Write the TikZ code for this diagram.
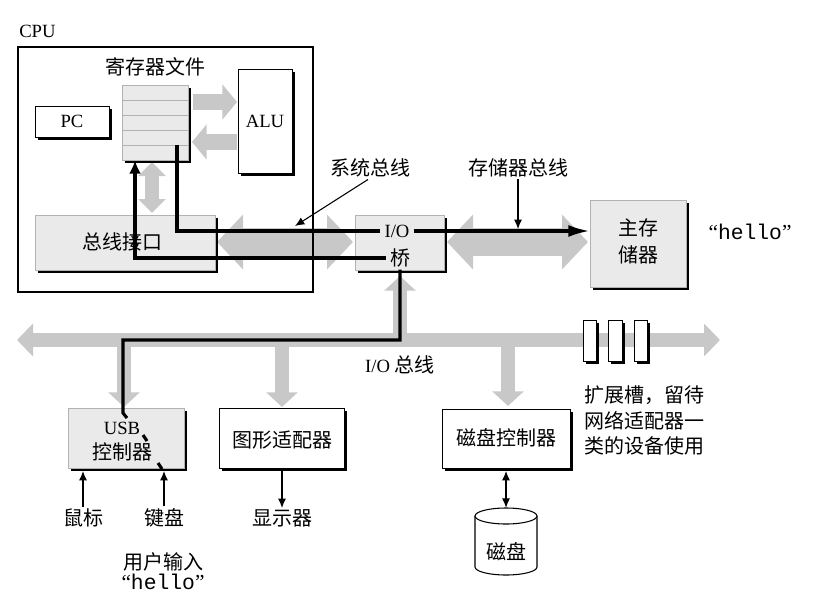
\documentclass[tikz,border=0pt]{standalone}
\usepackage{fontspec}
\setmainfont{Liberation Serif}
\setmonofont{Liberation Mono}
\newfontfamily\cjk{Noto Sans CJK SC}
\usetikzlibrary{arrows.meta,shadows,fit}
\definecolor{busgray}{RGB}{200,200,200}
\definecolor{boxgray}{RGB}{234,234,234}
\definecolor{edgegray}{RGB}{178,178,178}
\begin{document}
\begin{tikzpicture}[x=0.75pt,y=-0.75pt,
  plainbox/.style={draw=black, line width=0.6pt, fill=white, inner sep=0pt,
    drop shadow={shadow xshift=2.6pt, shadow yshift=-2.6pt, fill=black, opacity=1}},
  shadedbox/.style={plainbox, draw=edgegray, fill=boxgray},
  lat/.style={inner sep=0pt, font=\fontsize{14}{16}\selectfont},
  zh/.style={inner sep=0pt, font=\fontsize{15}{18}\selectfont\cjk},
  hl/.style={inner sep=0pt, font=\fontsize{16}{18}\selectfont},
  sysbus/.style={draw=busgray, line width=21.5pt,
    arrows={Triangle[length=19.5pt,width=40pt]-Triangle[length=19.5pt,width=40pt]}},
  regalu/.style={draw=busgray, line width=12pt, arrows={-Triangle[length=11pt,width=26pt]}},
  regbus/.style={draw=busgray, line width=11pt,
    arrows={Triangle[length=10.5pt,width=20pt]-Triangle[length=10.5pt,width=20pt]}},
  iobus/.style={draw=busgray, line width=11pt,
    arrows={Triangle[length=12pt,width=24pt]-Triangle[length=12pt,width=24pt]}},
  dropbus/.style={draw=busgray, line width=10pt, arrows={-Triangle[length=11pt,width=23pt]}},
  heavy/.style={line width=2.3pt, black},
  pointer/.style={line width=0.8pt, black, -{Latex[length=7pt,width=6pt]}},
  dpointer/.style={line width=0.8pt, black, {Latex[length=7pt,width=6pt]}-{Latex[length=7pt,width=6pt]}}
]
\useasboundingbox (0,0) rectangle (816,610);

% ---------- coordinates for free ends ----------
\coordinate (ra1) at (193,102);  \coordinate (ra2) at (237,102);
\coordinate (ar1) at (237,142);  \coordinate (ar2) at (192,142);
\coordinate (rb1) at (152,162);  \coordinate (rb2) at (152,213);
\coordinate (busL) at (17,340);  \coordinate (busR) at (720,340);
\coordinate (dUsb1) at (124,340); \coordinate (dUsb2) at (124,407);
\coordinate (dGfx1) at (282,340); \coordinate (dGfx2) at (282,407);
\coordinate (dDsk1) at (508,340); \coordinate (dDsk2) at (508,406);
\coordinate (up1) at (400,340);  \coordinate (up2) at (400,276);

% ---------- gray buses (behind boxes) ----------
\draw[regalu] (ra1) -- (ra2);
\draw[regalu] (ar1) -- (ar2);
\draw[regbus] (rb1) -- (rb2);
\draw[iobus] (busL) -- (busR);
\draw[dropbus] (dUsb1) -- (dUsb2);
\draw[dropbus] (dGfx1) -- (dGfx2);
\draw[dropbus] (dDsk1) -- (dDsk2);
\draw[dropbus] (up1) -- (up2);
\coordinate (sb1) at (217,242); \coordinate (sb2) at (353,242);
\coordinate (mb1) at (447,242); \coordinate (mb2) at (588,242);
\draw[sysbus] (sb1) -- (sb2);
\draw[sysbus] (mb1) -- (mb2);

% ---------- CPU ----------
\node[fit={(18,47)(313,292)}, draw, line width=2pt, inner sep=0pt] (cpu) {};
\node[lat, anchor=west] (cpulbl) at (19,31) {CPU};

\node[shadedbox, fit={(122,85)(188,160)}] (reg) {};
\foreach \yy in {100,115,130,145} \draw[edgegray, line width=0.6pt] (122,\yy) -- (188,\yy);
\node[zh] (reglbl) at (155,67) {寄存器文件};

\node[plainbox, fit={(35,106)(109,137)}] (pc) {};
\node[lat] (pctxt) at (pc.center) {PC};

\node[plainbox, fit={(238,69)(292,173)}] (alu) {};
\node[lat] (alutxt) at (alu.center) {ALU};

\node[shadedbox, fit={(35,215)(215,270)}] (busif) {};
\node[zh] (busiftxt) at (122,242) {总线接口};

% ---------- bridge and memory ----------
\node[shadedbox, fit={(355,215)(444,270)}] (bridge) {};
\node[lat, inner xsep=3pt] (io) at (397,231) {I/O};
\node[zh, inner xsep=3pt, inner ysep=1.5pt] (qiao) at (400,258) {桥};

\node[shadedbox, fit={(590,200)(686,287)}] (mem) {};
\node[zh] (memt1) at (638,228) {主存};
\node[zh] (memt2) at (638,255) {储器};
\node[hl] (hello1) at (750,232) {“\texttt{hello}”};

\node[zh] (sysbl) at (370,168) {系统总线};
\node[zh] (membl) at (518,168) {存储器总线};
\coordinate (sysp) at (295,226);
\coordinate (memp) at (518,229);
\draw[pointer] ([xshift=-1.5pt,yshift=-1.5pt]sysbl.south) -- (sysp);
\draw[pointer] ([yshift=-1.5pt]membl.south) -- (memp);

% ---------- I/O bus and devices ----------
\node[lat] (iolbl) at (400,365) {I/O {\cjk\fontsize{15}{18}\selectfont 总线}};

\node[plainbox, fit={(583,320)(596,361)}] (slot1) {};
\node[plainbox, fit={(608,320)(622,361)}] (slot2) {};
\node[plainbox, fit={(634,320)(647,361)}] (slot3) {};
\node[zh, anchor=west] (exp1) at (584,395) {扩展槽，留待};
\node[zh, anchor=west] (exp2) at (584,421) {网络适配器一};
\node[zh, anchor=west] (exp3) at (584,446) {类的设备使用};

\node[shadedbox, fit={(68,408)(184,468)}] (usb) {};
\node[lat] (usbt1) at (122,428) {USB};
\node[zh] (usbt2) at (122,452) {控制器};

\node[plainbox, fit={(219,408)(344,468)}] (gfx) {};
\node[zh] (gfxt) at (282,440) {图形适配器};

\node[plainbox, fit={(442,409)(570,468)}] (dskc) {};
\node[zh] (dskct) at (506,438) {磁盘控制器};

% disk cylinder
\node[fit={(475,508)(537,575)}, inner sep=0pt] (disk) {};
\draw[line width=0.8pt, fill=white] (475,516) -- (475,567) arc[start angle=180, end angle=0, x radius=31, y radius=8] -- (537,516);
\draw[line width=0.8pt, fill=white] (506,516) ellipse[x radius=31, y radius=8];
\node[zh] (disktxt) at (506,552) {磁盘};

\node[zh] (mouse) at (83,518) {鼠标};
\node[zh] (kbd) at (164,518) {键盘};
\node[zh] (disp) at (282,518) {显示器};
\node[zh] (uin) at (163,562) {用户输入};
\node[hl] (hello2) at (163,582) {“\texttt{hello}”};

\coordinate (mtip) at (83,471);
\coordinate (ktip) at (164,471);
\coordinate (gfxb) at (282,471);
\coordinate (dskb) at (506,471);
\draw[pointer] ([yshift=1.5pt]mouse.north) -- (mtip);
\draw[pointer] ([yshift=1.5pt]kbd.north) -- (ktip);
\draw[pointer] (gfxb) -- ([yshift=0.75pt]disp.north);
\draw[dpointer] (dskb) -- (disk.north);

% ---------- heavy black data paths ----------
\coordinate (rA) at (177,145);
\coordinate (rAc) at (177,231);
\draw[heavy] (rA) -- (rAc) -- (io.west);
\draw[heavy, -{Latex[length=16pt,width=9pt]}] (io.east) -- (io.east -| mem.west);
\coordinate (bL) at (135,258);
\draw[heavy, -{Latex[length=10pt,width=9pt]}] (qiao.west) -- (bL) -- (bL |- reg.south);
\coordinate (c1) at (400,340);
\coordinate (c2) at (123,340);
\coordinate (c3) at (123,413);
\coordinate (c4) at (127,418);
\draw[heavy] (qiao.south) -- (c1) -- (c2) -- (c3) -- (c4);
\draw[heavy] (143,435) -- (147,441);
\draw[heavy] (158,463) -- (162,469);
\end{tikzpicture}
\end{document}
